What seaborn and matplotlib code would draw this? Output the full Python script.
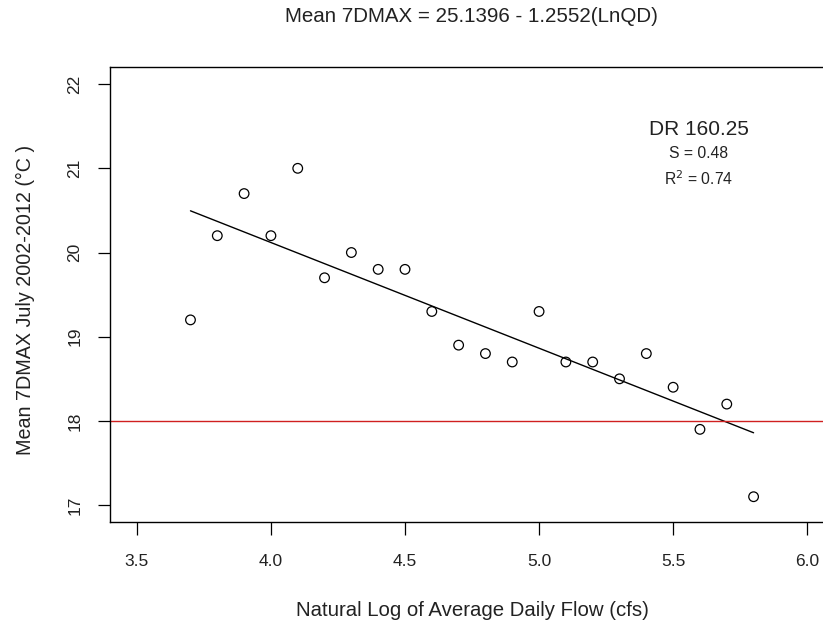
import numpy as np
import pandas as pd
import matplotlib
matplotlib.use("Agg")
import matplotlib.pyplot as plt
import seaborn as sns

# values
ln_flow = [3.7, 3.8, 3.9, 4.0, 4.1, 4.2, 4.3, 4.4, 4.5, 4.6, 4.7,
           4.8, 4.9, 5.0, 5.1, 5.2, 5.3, 5.4, 5.5, 5.6, 5.7, 5.8]
mean_7dmax = [19.2, 20.2, 20.7, 20.2, 21.0, 19.7, 20.0, 19.8, 19.8, 19.3, 18.9,
              18.8, 18.7, 19.3, 18.7, 18.7, 18.5, 18.8, 18.4, 17.9, 18.2, 17.1]
intercept = 25.1396
slope = -1.2552
criterion = 18.0
x_ticks = [3.5, 4.0, 4.5, 5.0, 5.5, 6.0]
y_ticks = [17, 18, 19, 20, 21, 22]

data = pd.DataFrame({"LnQD": ln_flow, "7DMAX": mean_7dmax})
data["fit"] = intercept + slope * data["LnQD"]

sns.set_style("white")
plt.rcParams["font.family"] = ["Liberation Sans", "DejaVu Sans"]

fig = plt.figure(figsize=(8.23, 6.27), dpi=100)
ax = fig.add_axes([0.1337, 0.1675, 0.8797, 0.7252])

sns.scatterplot(data=data, x="LnQD", y="7DMAX", ax=ax, marker="o", s=48,
                facecolors="none", edgecolor="black", linewidth=0.9)
sns.lineplot(data=data, x="LnQD", y="fit", ax=ax, color="black", linewidth=1.0)
ax.axhline(criterion, color="#d02020", linewidth=1.0)

ax.set_xlim(3.4, 6.1)
ax.set_ylim(16.8, 22.2)
ax.set_xticks(x_ticks)
ax.set_xticklabels([f"{v:.1f}" for v in x_ticks])
ax.set_yticks(y_ticks)
ax.set_yticklabels([str(v) for v in y_ticks], rotation=90, va="center")
ax.tick_params(axis="both", direction="out", length=9, width=0.9, color="black",
               labelsize=12.5, labelcolor="#222222")
ax.tick_params(axis="x", pad=14, bottom=True)
ax.tick_params(axis="y", pad=11, left=True)
for sp in ax.spines.values():
    sp.set_color("black")
    sp.set_linewidth(1.0)

ax.set_xlabel("")
ax.set_ylabel("")
fig.text(472 / 823, 1 - 611 / 627, "Natural Log of Average Daily Flow (cfs)",
         ha="center", va="center", fontsize=14.7, color="#222222")
fig.text(25 / 823, 1 - 300 / 627, "Mean 7DMAX July 2002-2012 (°C )",
         ha="center", va="center", rotation=90, fontsize=14.2, color="#222222")
fig.text(471 / 823, 1 - 16 / 627, "Mean 7DMAX = 25.1396 - 1.2552(LnQD)",
         ha="center", va="center", fontsize=14.8, color="#222222")

ax.text(5.597, 21.456, "DR 160.25", ha="center", va="center", fontsize=15, color="#222222")
ax.text(5.594, 21.18, "S = 0.48", ha="center", va="center", fontsize=11.3, color="#222222")
ax.text(5.594, 20.88, "R$^2$ = 0.74", ha="center", va="center", fontsize=11.3, color="#222222")

fig.savefig("out.png", dpi=100)
